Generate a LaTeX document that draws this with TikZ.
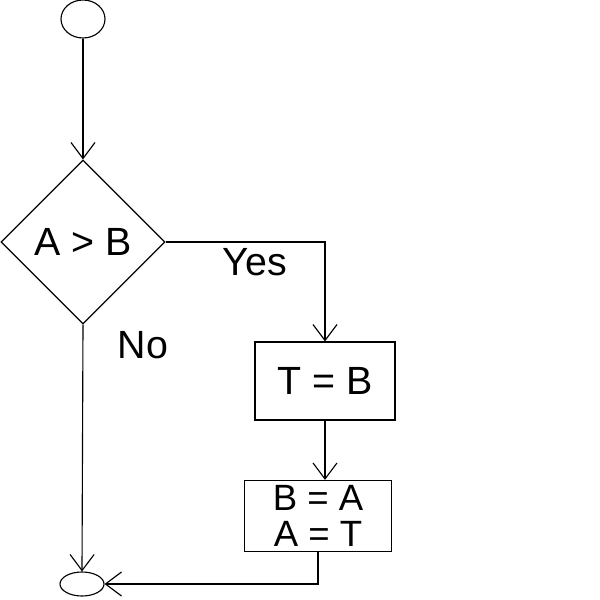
\documentclass[tikz,border=0pt]{standalone}
\usepackage{fontspec}
\setmainfont{Liberation Sans}
\usetikzlibrary{shapes.geometric, arrows.meta}

\begin{document}
\begin{tikzpicture}[x=0.025cm, y=-0.025cm, line width=0.8pt,
        every node/.style={font=\fontsize{28}{32}\selectfont},
        flow/.style={-{Straight Barb[length=4mm, width=6mm]}},
        stepbox/.style={draw, rectangle, align=center}]
        \useasboundingbox (0, 0) rectangle (600, 600);
        \node[draw, ellipse, minimum width=1.1cm, minimum height=0.95cm] (start) at (83, 19) {};
        \node[draw, diamond, minimum width=4.1cm, minimum height=4.1cm, inner sep=0pt] (cmp) at (83, 242) {A > B};
        \node[stepbox, minimum width=3.5cm, minimum height=1.95cm] (swap1) at (325, 381) {T = B};
        \node[stepbox, minimum width=3.675cm, minimum height=1.7cm, font=\fontsize{26}{26}\selectfont] (swap2) at (318, 516) {B = A\\A = T};
        \node[draw, ellipse, minimum width=1.1cm, minimum height=0.6cm] (stop) at (82, 584) {};
        \node (yes) at (255, 262) {Yes};
        \node (no) at (143, 345) {No};
        \draw[flow] (start) -- (cmp.north);
        \draw[flow] (cmp.east) -| (swap1.north);
        \draw[flow] (swap1.south) -- (swap1.south |- swap2.north);
        \draw[flow] (swap2.south) |- (stop.east);
        \draw[flow] (cmp.south) -- (stop.north);
      \end{tikzpicture}
\end{document}
